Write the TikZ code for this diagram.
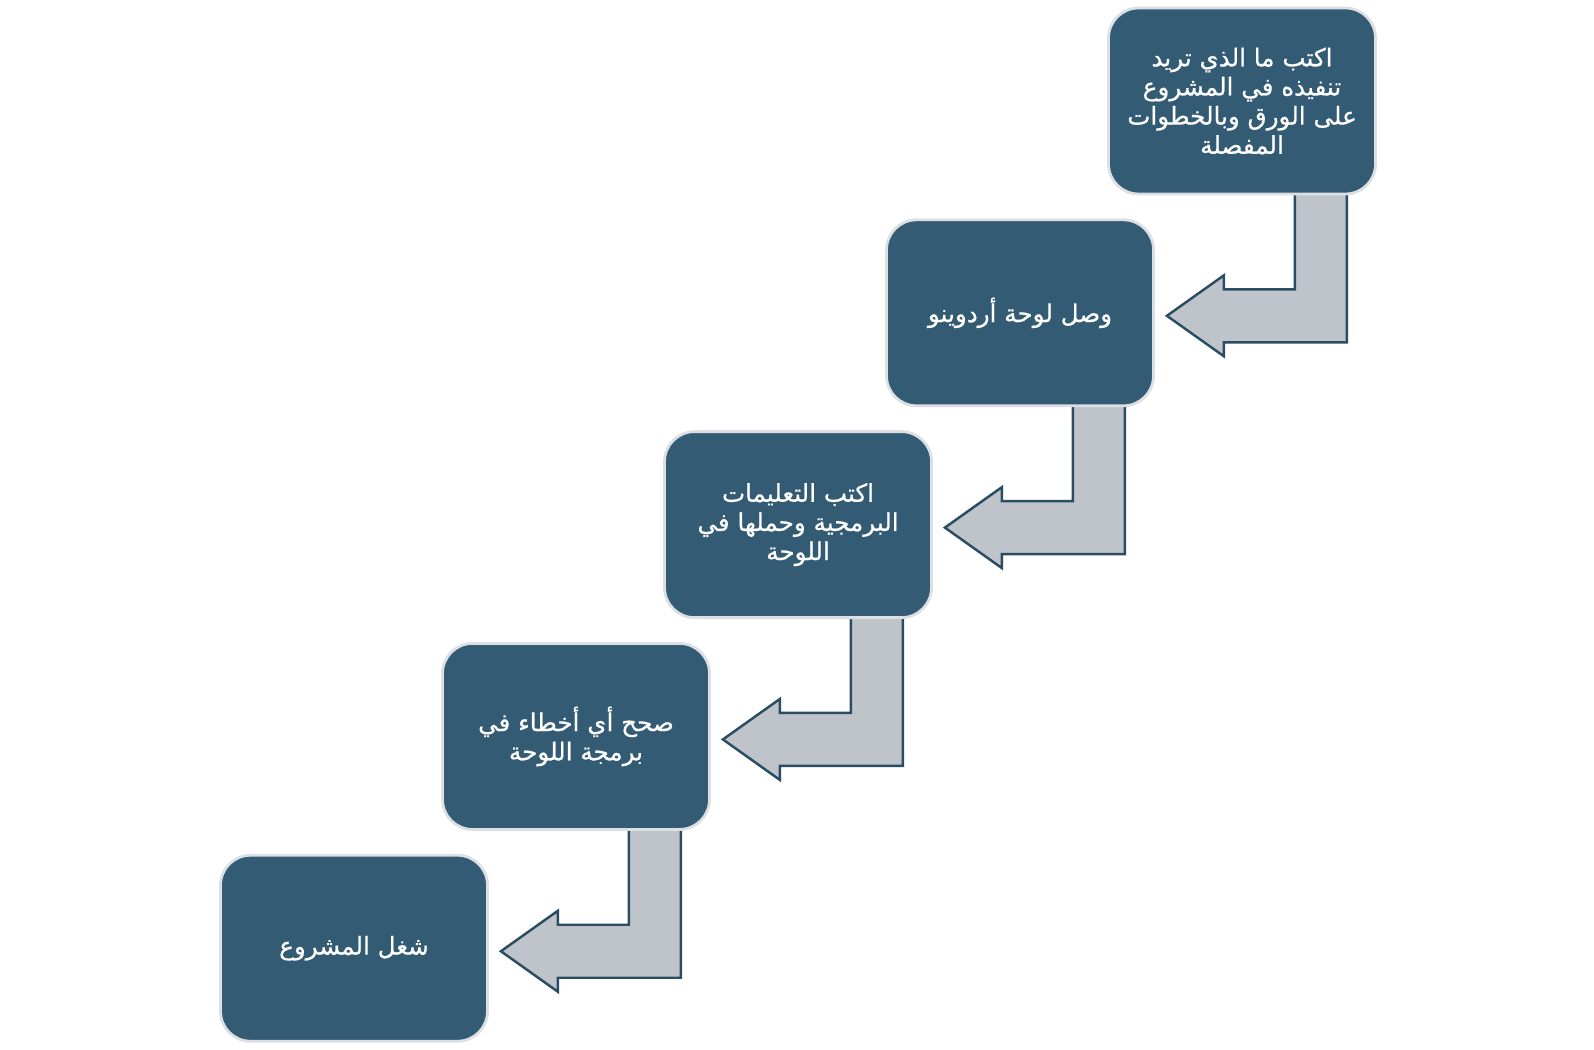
\documentclass[tikz,border=0pt]{standalone}
\usepackage{fontspec}
\usepackage{xcolor}
\usepackage{tikz}
\usetikzlibrary{positioning, calc, backgrounds}
\TeXXeTstate=1
\newfontfamily\arabicfont[Script=Arabic,FakeBold=0.6]{DejaVu Sans}

\definecolor{boxblue}{HTML}{335B74}
\definecolor{boxedge}{HTML}{DCE0E4}
\definecolor{arrowgray}{HTML}{BFC4CB}
\definecolor{arrowedge}{HTML}{2B4D63}

\tikzset{
    stepbox/.style={rectangle,draw=boxedge,fill=boxblue,line width=1.6pt,
        minimum width=5.34cm,minimum height=3.72cm,rounded corners=0.6cm,
        text=white,align=center,font=\arabicfont\fontsize{14}{16.6}\selectfont},
    bendarrow/.style={draw=arrowedge,fill=arrowgray,line width=1.4pt,line join=miter}
}

\begin{document}
\begin{tikzpicture}
    \useasboundingbox (0,0) rectangle (31.88,20.98);
    % Passi del progetto
    \node[stepbox] (b1) at (24.84,18.96) {
        \beginR اكتب ما الذي تريد\endR \\
        \beginR تنفيذه في المشروع\endR \\
        \beginR على الورق وبالخطوات\endR \\
        \beginR المفصلة\endR
    };
    \node[stepbox,below=0.46cm of b1,xshift=-4.44cm] (b2) {\beginR وصل لوحة أردوينو\endR};
    \node[stepbox,below=0.46cm of b2,xshift=-4.44cm] (b3) {
        \beginR اكتب التعليمات\endR \\
        \beginR البرمجية وحملها في\endR \\
        \beginR اللوحة\endR
    };
    \node[stepbox,below=0.46cm of b3,xshift=-4.44cm] (b4) {
        \beginR صحح أي أخطاء في\endR \\
        \beginR برمجة اللوحة\endR
    };
    \node[stepbox,below=0.46cm of b4,xshift=-4.44cm] (b5) {\beginR شغل المشروع\endR};

    % Frecce piegate
    \begin{scope}[on background layer]
        \foreach \a/\b in {b1/b2, b2/b3, b3/b4, b4/b5} {
            \draw[bendarrow] ($(\a.south east)+(-1.64,0.1)$) |- ($(\b.east)+(1.38,0.47)$)
                -- ++(0,0.28) -- ($(\b.east)+(0.24,-0.06)$) -- ($(\b.east)+(1.38,-0.87)$)
                -- ++(0,0.28) -| ($(\a.south east)+(-0.6,0.1)$) -- cycle;
        }
    \end{scope}
\end{tikzpicture}
\end{document}
